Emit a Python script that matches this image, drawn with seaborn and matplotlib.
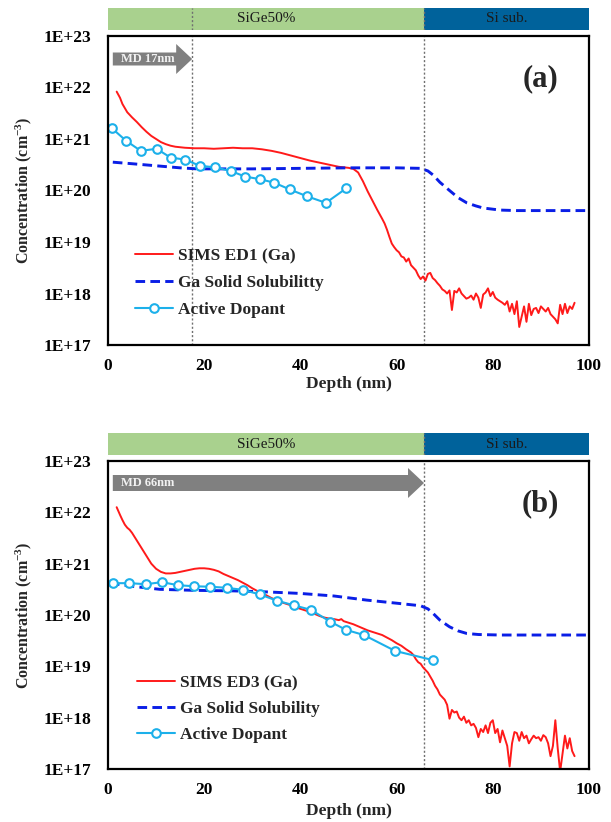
import numpy as np
import pandas as pd
import seaborn as sns
import matplotlib
matplotlib.use("Agg")
import matplotlib.pyplot as plt
from matplotlib.patches import FancyArrow
from matplotlib.ticker import LogLocator, FixedLocator, MultipleLocator, NullFormatter

# ---------------- data (log10 of concentration, cm^-3) ----------------
sims_a_x = [1.8, 2.5, 3.0, 3.5, 4.0, 4.5, 5.0, 6.0, 7.0, 8.0, 9.0, 10.0, 11.0, 12.0, 13.0, 14.0, 15.0, 16.0,
            18, 20, 22, 24, 26, 28, 30, 32, 34, 36, 38, 40, 42, 44, 46, 47, 48, 49, 50, 51, 52, 53, 54, 55,
            56, 57, 57.5, 58, 58.5, 59, 59.5, 60, 60.5, 61, 61.5, 62, 62.5, 63, 63.5, 64, 64.5, 65, 65.5,
            66, 66.5, 67, 67.5, 68, 68.5, 69, 69.5, 70, 70.5, 71, 71.5, 72, 72.5, 73, 73.5, 74, 74.5, 75,
            75.5, 76, 76.5, 77, 77.5, 78, 78.5, 79, 79.5, 80, 80.5, 81, 81.5, 82, 82.5, 83, 83.5, 84, 84.5,
            85, 85.5, 86, 86.5, 87, 87.5, 88, 88.5, 89, 89.5, 90, 90.5, 91, 91.5, 92, 92.5, 93, 93.5, 94,
            94.5, 95, 95.5, 96, 96.5, 97]
sims_a_log = [21.92, 21.80, 21.68, 21.60, 21.52, 21.47, 21.42, 21.33, 21.23, 21.14, 21.06, 21.00, 20.94,
              20.90, 20.87, 20.85, 20.84, 20.83, 20.82, 20.82, 20.81, 20.82, 20.83, 20.82, 20.82, 20.80,
              20.77, 20.73, 20.68, 20.63, 20.58, 20.54, 20.50, 20.48, 20.46, 20.45, 20.44, 20.42, 20.35,
              20.18, 19.98, 19.80, 19.62, 19.45, 19.36, 19.24, 19.10, 18.97, 18.90, 18.84, 18.80, 18.72,
              18.70, 18.62, 18.68, 18.55, 18.50, 18.45, 18.35, 18.28, 18.33, 18.25, 18.38, 18.40, 18.30,
              18.26, 18.20, 18.15, 18.08, 18.05, 18.00, 18.06, 17.68, 18.05, 18.02, 18.10, 18.00, 17.95,
              17.90, 17.92, 17.96, 17.88, 18.00, 17.92, 17.72, 17.98, 18.02, 18.10, 17.95, 18.03, 17.92,
              17.88, 17.85, 17.82, 17.78, 17.85, 17.65, 17.80, 17.60, 17.85, 17.35, 17.55, 17.75, 17.45,
              17.80, 17.58, 17.70, 17.72, 17.62, 17.75, 17.70, 17.65, 17.72, 17.60, 17.55, 17.50, 17.42,
              17.78, 17.60, 17.80, 17.62, 17.75, 17.70, 17.82]

sol_a_x = [1, 5, 10, 15, 18.5, 25, 30, 40, 50, 60, 65, 66.5, 67.6, 69, 71, 72.8, 74.6, 76.5, 78, 81.5, 85, 90, 95, 100]
sol_a_log = [20.55, 20.52, 20.48, 20.44, 20.42, 20.42, 20.42, 20.43, 20.44, 20.44, 20.43, 20.38, 20.30,
             20.16, 20.00, 19.86, 19.76, 19.70, 19.66, 19.62, 19.61, 19.61, 19.61, 19.61]

act_a_x = [0.8, 3.7, 6.8, 10.1, 13.0, 16.0, 19.1, 22.2, 25.5, 28.5, 31.6, 34.6, 37.8, 41.3, 45.3, 49.5]
act_a_log = [21.21, 20.97, 20.77, 20.81, 20.64, 20.60, 20.48, 20.45, 20.38, 20.27, 20.22, 20.15, 20.02,
             19.89, 19.76, 20.04]

sims_b_x = [1.8, 2.5, 3.0, 3.5, 4.0, 4.5, 5.0, 6.0, 7.0, 8.0, 9.0, 10.0, 11.0, 12.0, 13.0, 14.0, 15.0, 16.0,
            17, 18, 19, 20, 21, 22, 23, 24, 25, 26, 27, 28, 29, 30, 31, 32, 33, 34, 35, 36, 37, 38, 39, 40,
            41, 42, 43, 44, 45, 46, 47, 48, 48.5, 49, 50, 51, 52, 53, 54, 55, 56, 57, 58, 59, 60, 61, 62, 63,
            63.5, 64, 64.5, 65, 65.5, 66, 66.5, 67, 67.5, 68, 68.5, 69, 69.5, 70, 70.5, 71, 71.5, 72, 72.5,
            73, 73.5, 74, 74.5, 75, 75.5, 76, 76.5, 77, 77.5, 78, 78.5, 79, 79.5, 80, 80.5, 81, 81.5, 82,
            82.5, 83, 83.5, 84, 84.5, 85, 85.5, 86, 86.5, 87, 87.5, 88, 88.5, 89, 89.5, 90, 90.5, 91, 91.5,
            92, 92.5, 93, 93.5, 94, 94.5, 95, 95.5, 96, 96.5, 97]
sims_b_log = [22.10, 21.95, 21.85, 21.76, 21.70, 21.66, 21.60, 21.45, 21.30, 21.15, 21.00, 20.90, 20.84,
              20.81, 20.81, 20.82, 20.84, 20.86, 20.88, 20.90, 20.91, 20.91, 20.90, 20.88, 20.85, 20.80,
              20.76, 20.72, 20.68, 20.63, 20.58, 20.52, 20.47, 20.43, 20.38, 20.33, 20.29, 20.25, 20.22,
              20.19, 20.15, 20.12, 20.09, 20.06, 20.02, 19.98, 19.95, 19.93, 19.92, 19.90, 19.92, 19.88,
              19.85, 19.82, 19.78, 19.74, 19.70, 19.67, 19.64, 19.61, 19.56, 19.51, 19.45, 19.40, 19.33,
              19.27, 19.22, 19.14, 19.08, 19.05, 18.98, 18.93, 18.88, 18.80, 18.72, 18.62, 18.55, 18.45,
              18.40, 18.35, 18.25, 17.98, 18.15, 18.10, 18.12, 18.00, 17.95, 18.02, 17.90, 17.95, 17.85,
              17.88, 17.80, 17.62, 17.78, 17.72, 17.85, 17.70, 17.90, 17.95, 17.70, 17.78, 17.52, 17.75,
              17.60, 17.45, 17.05, 17.50, 17.72, 17.70, 17.55, 17.72, 17.60, 17.65, 17.50, 17.58, 17.65,
              17.60, 17.62, 17.55, 17.66, 17.62, 17.50, 17.25, 17.45, 17.95, 17.40, 16.95, 17.30, 17.65,
              17.40, 17.60, 17.35, 17.25]

sol_b_x = [0.4, 5, 10.8, 18, 26, 33, 40, 47, 53.8, 60, 65, 66.5, 67.6, 69, 71, 72.8, 74.6, 77, 81.5, 85, 90, 95, 100]
sol_b_log = [20.62, 20.56, 20.50, 20.48, 20.47, 20.45, 20.42, 20.37, 20.29, 20.23, 20.18, 20.12, 20.03,
             19.90, 19.77, 19.69, 19.64, 19.62, 19.61, 19.61, 19.61, 19.61, 19.61]

act_b_x = [1.1, 4.4, 7.9, 11.2, 14.6, 17.9, 21.3, 24.7, 28.0, 31.6, 35.1, 38.6, 42.2, 46.2, 49.5, 53.2, 59.7, 67.6]
act_b_log = [20.62, 20.62, 20.60, 20.64, 20.58, 20.56, 20.55, 20.53, 20.49, 20.40, 20.28, 20.19, 20.10,
             19.87, 19.71, 19.61, 19.30, 19.12]

ytick_exps = [17, 18, 19, 20, 21, 22, 23]
ytick_labels = ["1E+17", "1E+18", "1E+19", "1E+20", "1E+21", "1E+22", "1E+23"]
xticks = [0, 20, 40, 60, 80, 100]
md_depth = [17.5, 65.7]
md_labels = ["MD 17nm", "MD 66nm"]
sub_boundary = 65.7
panel_tags = ["(a)", "(b)"]
sims_labels = ["SIMS ED1 (Ga)", "SIMS ED3 (Ga)"]
sol_labels = ["Ga Solid Solubilitty", "Ga Solid Solubility"]
act_label = "Active Dopant"

# ---------------- style ----------------
sns.set_style("white")
plt.rcParams["font.family"] = ["Liberation Serif", "DejaVu Serif"]
plt.rcParams["font.weight"] = "bold"
plt.rcParams["mathtext.fontset"] = "custom"
plt.rcParams["mathtext.rm"] = "Liberation Serif:bold"
plt.rcParams["mathtext.bf"] = "Liberation Serif:bold"
plt.rcParams["mathtext.default"] = "bf"

RED = "#ff1a1a"
BLUE = "#0a1ee6"
CYAN = "#1cb0ea"
GREEN = "#a9d18e"
NAVY = "#00629b"
GRAY = "#808080"

W, H = 611, 822
fig = plt.figure(figsize=(W / 100, H / 100), dpi=100)

def fx(px):
    return px / W

def fy(py):
    return 1 - py / H

panels = [
    dict(ax_top=36, ax_bot=345, band_top=8, band_bot=30, sims=(sims_a_x, sims_a_log),
         sol=(sol_a_x, sol_a_log), act=(act_a_x, act_a_log), leg_y=283, leg_x=135, arrow_y=59,
         body=13, md=md_depth[0], mdl=md_labels[0], lines=[md_depth[0], sub_boundary], lsp=0.62),
    dict(ax_top=461, ax_bot=769, band_top=433, band_bot=455, sims=(sims_b_x, sims_b_log),
         sol=(sol_b_x, sol_b_log), act=(act_b_x, act_b_log), leg_y=709, leg_x=137, arrow_y=483,
         body=16, md=md_depth[1], mdl=md_labels[1], lines=[sub_boundary], lsp=0.55),
]

L, R = 108, 589
for i, p in enumerate(panels):
    ax = fig.add_axes([fx(L), fy(p["ax_bot"]), fx(R - L), (p["ax_bot"] - p["ax_top"]) / H])
    band = fig.add_axes([fx(L), fy(p["band_bot"]), fx(R - L), (p["band_bot"] - p["band_top"]) / H])

    d_sims = pd.DataFrame({"depth": p["sims"][0], "conc": 10.0 ** np.array(p["sims"][1])})
    d_sol = pd.DataFrame({"depth": p["sol"][0], "conc": 10.0 ** np.array(p["sol"][1])})
    d_act = pd.DataFrame({"depth": p["act"][0], "conc": 10.0 ** np.array(p["act"][1])})

    sns.lineplot(data=d_sims, x="depth", y="conc", ax=ax, color=RED, lw=1.4, label=sims_labels[i])
    sns.lineplot(data=d_sol, x="depth", y="conc", ax=ax, color=BLUE, lw=2.1,
                 linestyle=(0, (3.3, 1.8)), label=sol_labels[i])
    sns.lineplot(data=d_act, x="depth", y="conc", ax=ax, color=CYAN, lw=1.5, marker="o",
                 markersize=6.2, markerfacecolor="white", markeredgecolor=CYAN, markeredgewidth=1.5,
                 label=act_label)

    ax.set_yscale("log")
    ax.set_ylim(1e17, 1e23)
    ax.set_xlim(0, 100)
    ax.yaxis.set_major_locator(FixedLocator([10.0 ** e for e in ytick_exps]))
    ax.set_yticklabels(ytick_labels)
    ax.yaxis.set_minor_locator(LogLocator(base=10, subs=np.arange(2, 10), numticks=20))
    ax.yaxis.set_minor_formatter(NullFormatter())
    ax.xaxis.set_major_locator(FixedLocator(xticks))
    ax.xaxis.set_minor_locator(MultipleLocator(5))
    ax.tick_params(axis="both", which="both", direction="in", colors="black", labelsize=12.5)
    ax.tick_params(axis="x", which="both", length=4, width=1.2, pad=9)
    ax.tick_params(axis="y", which="major", length=5, width=1.2, pad=12)
    ax.tick_params(axis="y", which="minor", length=3, width=0.9)
    for lab in ax.get_xticklabels() + ax.get_yticklabels():
        lab.set_fontweight("bold")
    for s in ax.spines.values():
        s.set_color("black")
        s.set_linewidth(1.6)
        s.set_visible(True)

    ax.set_xlabel("Depth (nm)", fontsize=12.5, fontweight="bold")
    ax.set_ylabel("Concentration (cm$^{-3}$)", fontsize=11.5, fontweight="bold")
    hgt = p["ax_bot"] - p["ax_top"]
    ax.xaxis.set_label_coords(0.5, -(376 - 345) / 309 if i == 0 else -(803 - 769) / 308)
    ax.yaxis.set_label_coords(-(108 - 34) / 481, 0.5)

    # vertical dotted lines
    for xv in p["lines"]:
        ax.axvline(xv, color="#707070", lw=1.0, ls=(0, (1.5, 1.5)), zorder=1)
        band.axvline(xv, color="#707070", lw=1.0, ls=(0, (1.5, 1.5)), zorder=3)

    # arrow
    trans = ax.get_xaxis_transform()
    ay = (p["ax_bot"] - p["arrow_y"]) / hgt
    body_w = p["body"] / hgt
    head_w = 30 / hgt
    head_l = 16 / 481 * 100
    x0 = 1.0
    arr = FancyArrow(x0, ay, p["md"] - x0, 0, width=body_w, head_width=head_w, head_length=head_l,
                     length_includes_head=True, transform=trans, color=GRAY, lw=0, zorder=4)
    ax.add_patch(arr)
    ax.text(x0 + 1.7, ay, p["mdl"], transform=trans, ha="left", va="center", fontsize=9,
            fontweight="bold", color="#f2f2f2", zorder=5)

    ax.text((540 - L) / 481, (p["ax_bot"] - (p["ax_top"] + 43)) / hgt, panel_tags[i],
            transform=ax.transAxes, ha="center", va="center", fontsize=22, fontweight="bold")

    # legend
    h, l = ax.get_legend_handles_labels()
    leg = ax.legend(h, l, loc="center left",
                    bbox_to_anchor=((p["leg_x"] - L) / 481, (p["ax_bot"] - p["leg_y"]) / hgt),
                    frameon=False, handlelength=2.2, handletextpad=0.25,
                    labelspacing=p["lsp"], borderpad=0, borderaxespad=0,
                    prop=dict(weight="bold", size=12.5))

    # band
    band.set_xlim(0, 100)
    band.set_ylim(0, 1)
    band.axvspan(0, sub_boundary, color=GREEN, lw=0)
    band.axvspan(sub_boundary, 100, color=NAVY, lw=0)
    band.text(sub_boundary / 2, 0.5, "SiGe50%", ha="center", va="center", fontsize=11,
              fontweight="normal", color="#1a1a1a")
    band.text((sub_boundary + 100) / 2, 0.5, "Si sub.", ha="center", va="center", fontsize=11,
              fontweight="normal", color="#1a1a1a")
    band.axis("off")

fig.savefig("out.png", dpi=100)
